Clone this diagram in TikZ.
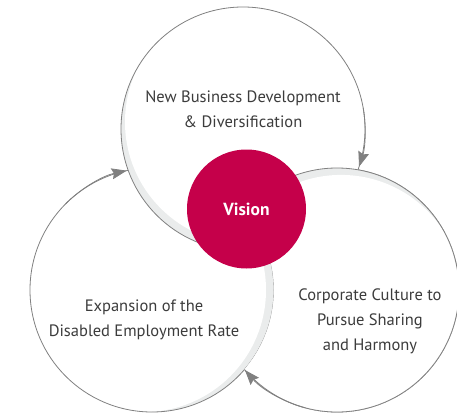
\documentclass[tikz,border=0pt]{standalone}
\usepackage{fontspec}
\setmainfont{PT Sans}
\usetikzlibrary{arrows.meta}
\definecolor{ringgray}{RGB}{128,128,128}
\definecolor{shadegray}{RGB}{234,236,236}
\definecolor{visionred}{RGB}{197,0,74}
\definecolor{textgray}{RGB}{60,60,60}
\def\rr{122pt}
\newcommand{\ringdisc}[2]{%
  \fill[white] (#1) circle (\rr);
  \begin{scope}
    \clip (#1) circle (\rr);
    \fill[shadegray] (#1) circle (\rr);
    \fill[white] ([shift={(#2+180:8pt)}]#1) circle (\rr);
  \end{scope}
  \draw[ring] (#1) circle (\rr);
}

\begin{document}
\begin{tikzpicture}[x=1pt,y=1pt,
    ring/.style={draw=ringgray,line width=0.8pt},
    ringarrow/.style={ring,-{Stealth[length=15pt,width=11pt,inset=2pt,fill=ringgray]}},
    label/.style={align=center,text=textgray,inner sep=0pt,
      font=\fontsize{16.5}{25}\selectfont}]
        \useasboundingbox (0,0) rectangle (457,413);
        \coordinate (top) at (243,284);
        \coordinate (left) at (152,123);
        \coordinate (right) at (337,123);

        \ringdisc{right}{120}
        \ringdisc{left}{0}
        \ringdisc{top}{240}
        \begin{scope}[even odd rule]
            \clip (0,0) rectangle (457,413) (left) circle (\rr);
            \ringdisc{right}{120}
        \end{scope}

        \draw[ringarrow] ([shift={(10:\rr)}]top) arc[start angle=10,end angle=-18,radius=\rr];
        \draw[ringarrow] ([shift={(135:\rr)}]left) arc[start angle=135,end angle=102,radius=\rr];
        \draw[ringarrow] ([shift={(255:\rr)}]right) arc[start angle=255,end angle=221,radius=\rr];

        \node[circle,fill=visionred,minimum size=119pt,inner sep=0pt,text=white,
          font=\bfseries\fontsize{17.5}{20}\selectfont] (vision) at (246.5,204) {Vision};

        \node[label] (newbiz) at (243,304) {New Business Development\\\& Diversification};
        \node[label] (expansion) at (144,93) {Expansion of the\\Disabled Employment Rate};
        \node[label] (culture) at (370,92) {Corporate Culture to\\Pursue Sharing\\and Harmony};
\end{tikzpicture}
\end{document}
